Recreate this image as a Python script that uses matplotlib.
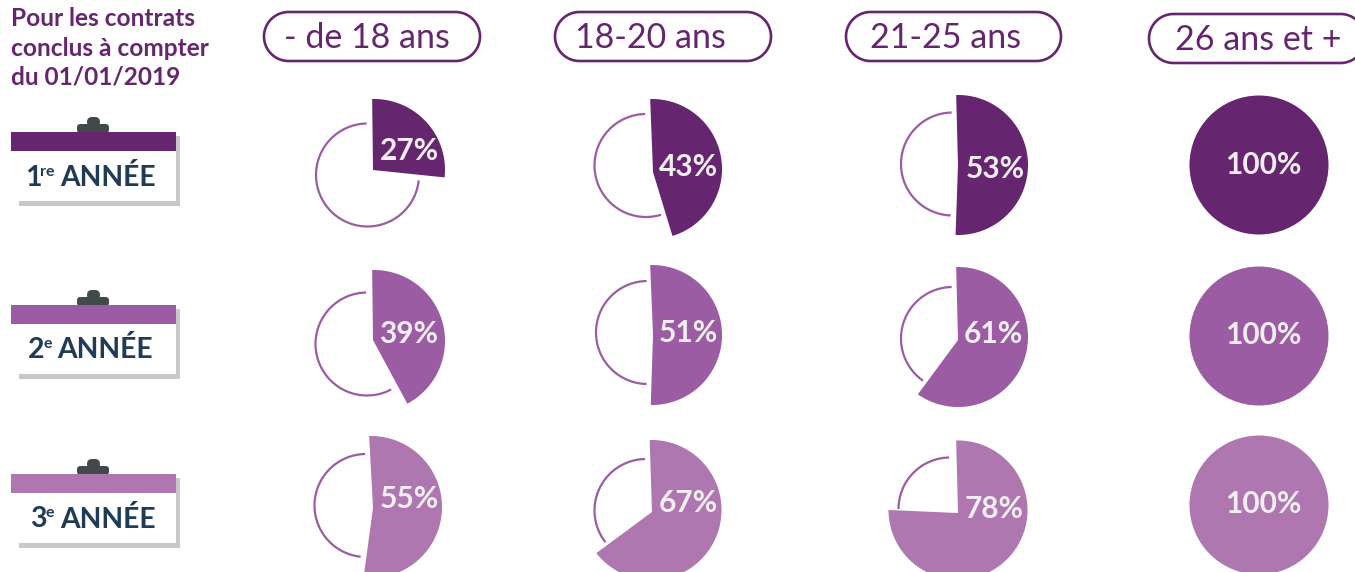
import numpy as np
import matplotlib
matplotlib.use("Agg")
import matplotlib.pyplot as plt
from matplotlib.patches import Polygon, Circle, Rectangle, FancyBboxPatch

# ---------- data ----------
title_lines = ["Pour les contrats", "conclus à compter", "du 01/01/2019"]
age_groups = ["- de 18 ans", "18-20 ans", "21-25 ans", "26 ans et +"]
year_numbers = ["1", "2", "3"]
year_suffixes = ["re", "e", "e"]
year_word = "ANNÉE"
pct_year1 = [27, 43, 53, 100]
pct_year2 = [39, 51, 61, 100]
pct_year3 = [55, 67, 78, 100]
# angles actually drawn in the picture (degrees clockwise from 12 o'clock)
sweep_year1 = [96, 163, 182, 360]
sweep_year2 = [152, 181, 215, 360]
sweep_year3 = [186, 232, 270, 360]

# ---------- styles / layout (pixels) ----------
W, H = 1355, 572
DARK, MID, LIGHT = "#65266F", "#9B5CA4", "#AF77B0"
NAVY = "#1F3B55"
CLIP = "#41494A"
SHADOW = "#C8C8CA"
LABEL = "#F1EEF2"
row_colors = [DARK, MID, LIGHT]
FONT = "Lato"

wedge_centers = [[(374, 170), (652, 169), (958, 165), (1259, 165)],
                 [(374, 341), (652, 335), (958, 337), (1259, 336)],
                 [(371, 507), (651.5, 510), (958, 510), (1259, 505)]]
apexes = [[(373, 170), (653, 172), (958, 165)],
          [(373, 340), (653, 335), (958, 340)],
          [(373, 508), (652, 512), (958, 513)]]
wedge_radius = [[71, 70, 70, 69.5], [71, 70, 70, 69.5], [71, 70, 69.5, 69.5]]
ring_centers = [[(367.5, 175), (646, 165.5), (952.5, 164)],
                [(367, 344), (647.5, 332.5), (952.5, 338.5)],
                [(366, 505.5), (646, 510.5), (950, 509)]]
RING_R = 51.5
label_xy = [[(409, 151), (688, 167), (995, 169), (1263, 165)],
            [(409, 334), (688, 333), (993, 334), (1263, 335)],
            [(409, 499), (688, 503), (994, 509), (1263, 504)]]
pills = [(264, 12, 216, 49), (555, 12, 216, 49), (846, 12, 215, 49), (1149, 14, 216, 49)]
pill_text_x = [367, 650.5, 945.5, 1258]
banner_y = [132, 305, 474]
year_text_y = [178, 350, 519]
num_x = [25, 28, 30]
suf_x = [40, 43, 45]
word_x = [60, 57, 60]

fig = plt.figure(figsize=(W / 100, H / 100), dpi=100, facecolor="white")
ax = fig.add_axes([0, 0, 1, 1])
ax.set_xlim(0, W)
ax.set_ylim(H, 0)
ax.axis("off")


def polar(c, r, deg):
    t = np.radians(90 - np.asarray(deg, float))
    return c[0] + r * np.cos(t), c[1] - r * np.sin(t)


def pill_outline(x, y, w, h):
    r = h / 2
    rx, ry = polar((x + w - r, y + r), r, np.linspace(0, 180, 60))
    lx, ly = polar((x + r, y + r), r, np.linspace(180, 360, 60))
    return np.column_stack([np.r_[rx, lx], np.r_[ry, ly]])


# title
for line, y in zip(title_lines, [19, 48, 77]):
    ax.text(11, y, line, family=FONT, weight="bold", fontsize=17.6, color=DARK,
            ha="left", va="center")

# age-group pills
for (x, y, w, h), name, tx in zip(pills, age_groups, pill_text_x):
    ax.add_patch(Polygon(pill_outline(x, y, w, h), closed=True, fc="white", ec=DARK, lw=1.9))
    ax.text(tx, y + h / 2 + 1, name, family=FONT, weight="normal", fontsize=24.5,
            color=DARK, ha="center", va="center")

# year calendars
for i, by in enumerate(banner_y):
    ax.add_patch(Rectangle((23, by + 4), 157, 70, fc=SHADOW, ec="none"))
    ax.add_patch(Rectangle((19, by + 4), 157, 65, fc="white", ec="none"))
    ax.add_patch(Rectangle((19, by + 69), 4, 5, fc=SHADOW, ec="none"))
    ax.add_patch(FancyBboxPatch((77, by - 8), 32, 9, boxstyle="round,pad=0,rounding_size=3.5",
                                fc=CLIP, ec="none"))
    ax.add_patch(FancyBboxPatch((87, by - 15), 13, 10, boxstyle="round,pad=0,rounding_size=5",
                                fc=CLIP, ec="none"))
    ax.add_patch(Rectangle((11, by), 165, 19, fc=row_colors[i], ec="none"))
    ty = year_text_y[i]
    ax.text(num_x[i], ty, year_numbers[i], family=FONT, weight="bold", fontsize=20.5,
            color=NAVY, ha="left", va="center")
    ax.text(suf_x[i], ty - 6, year_suffixes[i], family=FONT, weight="bold", fontsize=11.5,
            color=NAVY, ha="left", va="center")
    ax.text(word_x[i], ty, year_word, family=FONT, weight="bold", fontsize=20.3,
            color=NAVY, ha="left", va="center")

# pies
pcts = [pct_year1, pct_year2, pct_year3]
sweeps = [sweep_year1, sweep_year2, sweep_year3]
for i in range(3):
    for j in range(4):
        c, r, sw = wedge_centers[i][j], wedge_radius[i][j], sweeps[i][j]
        if sw >= 360:
            ax.add_patch(Circle(c, r, fc=row_colors[i], ec="none"))
        else:
            rc = ring_centers[i][j]
            a = np.linspace(sw, 359, 200)
            ax.plot(*polar(rc, RING_R, a), color=MID, lw=1.6, solid_capstyle="butt")
            a = np.linspace(-1.5, sw, 200)
            xs, ys = polar(c, r, a)
            pts = np.column_stack([np.r_[apexes[i][j][0], xs], np.r_[apexes[i][j][1], ys]])
            ax.add_patch(Polygon(pts, closed=True, fc=row_colors[i], ec="none"))
        lx, ly = label_xy[i][j]
        ax.text(lx, ly, f"{pcts[i][j]}%", family=FONT, weight="bold", fontsize=21.5,
                color=LABEL, ha="center", va="center")

fig.savefig("out.png", dpi=100, facecolor="white")
